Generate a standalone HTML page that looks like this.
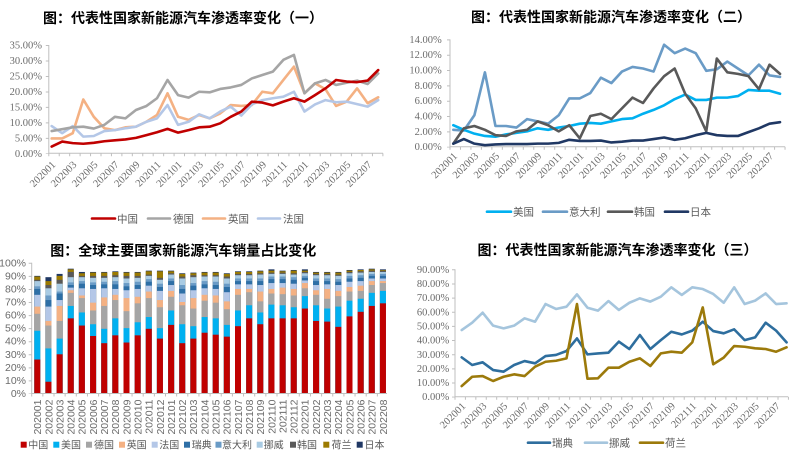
<!DOCTYPE html>
<html><head><meta charset="utf-8"><style>
html,body{margin:0;padding:0;background:#fff;}
svg{display:block}
.t{font:bold 14px "Liberation Sans","Noto Sans CJK SC",sans-serif;fill:#000;text-anchor:middle}
.y{font:10.5px "Liberation Serif",serif;fill:#6b6b6b;text-anchor:end}
.ys{font:10.5px "Liberation Sans",sans-serif;fill:#6b6b6b;text-anchor:end}
.lg{font:10.5px "Liberation Sans","Noto Sans CJK SC",sans-serif;fill:#595959}
.lb{font:10px "Liberation Sans","Noto Sans CJK SC",sans-serif;fill:#595959}
.ax{stroke:#bfbfbf;stroke-width:1;fill:none}
.tk{stroke:#bfbfbf;stroke-width:3;fill:none}
.ln{fill:none;stroke-width:2.6;stroke-linejoin:round;stroke-linecap:round;vector-effect:non-scaling-stroke}
.a{fill:#203864}.b{fill:#9C7A00}.c{fill:#595959}.d{fill:#A9CBE3}.e{fill:#6A9BC6}.f{fill:#2E6FA6}.g{fill:#B4C7E7}.h{fill:#F4B183}.i{fill:#A5A5A5}.j{fill:#00B0F0}.k{fill:#C00000}
</style></head><body>
<svg width="800" height="458" viewBox="0 0 800 458" xmlns="http://www.w3.org/2000/svg">
<rect width="800" height="458" fill="#fff"/>

<!-- ============ TOP LEFT ============ -->
<text class="t" x="183" y="23">图：代表性国家新能源汽车渗透率变化（一）</text>
<g class="y">
<text x="42" y="157">0.00%</text><text x="42" y="141.3">5.00%</text><text x="42" y="125.9">10.00%</text><text x="42" y="110.4">15.00%</text><text x="42" y="94.9">20.00%</text><text x="42" y="79.4">25.00%</text><text x="42" y="63.9">30.00%</text><text x="42" y="48.5">35.00%</text>
</g>
<path class="ax" d="M48.8 45V153.3H383"/>
<line class="tk" x1="48.3" y1="154.8" x2="384" y2="154.8" stroke-width="3" stroke-dasharray="1 9.44"/>
<line class="tk" x1="47.3" y1="45" x2="47.3" y2="154" stroke-dasharray="1 14.48"/>
<g class="y">
<text transform="translate(56.2,165.3) rotate(-45)">202001</text>
<text transform="translate(77.2,165.3) rotate(-45)">202003</text>
<text transform="translate(98.3,165.3) rotate(-45)">202005</text>
<text transform="translate(119.4,165.3) rotate(-45)">202007</text>
<text transform="translate(140.5,165.3) rotate(-45)">202009</text>
<text transform="translate(161.5,165.3) rotate(-45)">202011</text>
<text transform="translate(182.6,165.3) rotate(-45)">202101</text>
<text transform="translate(203.7,165.3) rotate(-45)">202103</text>
<text transform="translate(224.7,165.3) rotate(-45)">202105</text>
<text transform="translate(245.8,165.3) rotate(-45)">202107</text>
<text transform="translate(266.9,165.3) rotate(-45)">202109</text>
<text transform="translate(288,165.3) rotate(-45)">202111</text>
<text transform="translate(309,165.3) rotate(-45)">202201</text>
<text transform="translate(330.1,165.3) rotate(-45)">202203</text>
<text transform="translate(351.2,165.3) rotate(-45)">202205</text>
<text transform="translate(372.2,165.3) rotate(-45)">202207</text>
</g>
<g transform="translate(51.67,153.33) scale(10.533,-3.095)">
<polyline class="ln" stroke="#F4B183" points="0,4.8 1,4.8 2,6.5 3,17.4 4,11.8 5,8.1 6,7.5 7,8.4 8,8.6 9,10.2 10,12.4 11,19.4 12,11.8 13,10.8 14,12.4 15,11.3 16,12.9 17,15.6 18,15.3 19,15.6 20,19.9 21,19.4 22,23.7 23,28 24,19.4 25,22.6 26,20.7 27,15.3 28,16.7 29,21 30,16.2 31,18.1"/>
<polyline class="ln" stroke="#B4C7E7" points="0,8.8 1,6.5 2,8.8 3,5.4 4,5.6 5,7.2 6,7.5 7,8.1 8,8.6 9,10.2 10,11.3 11,15.6 12,9.2 13,10.2 14,12.6 15,11.3 16,13.5 17,15.1 18,12.2 19,15.8 20,17.2 21,17.8 22,18.3 23,19.9 24,13.5 25,15.8 26,17.2 27,16.5 28,16.7 29,15.9 30,15.1 31,17.2"/>
<polyline class="ln" stroke="#A5A5A5" points="0,7.2 1,7.8 2,8.4 3,8.6 4,8 5,9.2 6,11.8 7,11.3 8,14 9,15.3 10,17.8 11,23.7 12,18.8 13,18 14,19.9 15,19.7 16,20.8 17,21.3 18,22.1 19,24.2 20,25.3 21,26.4 22,30.2 23,31.8 24,19.4 25,22.6 26,23.7 27,22.1 28,22.8 29,23.5 30,22.4 31,25.8"/>
<polyline class="ln" stroke="#C00000" points="0,2.2 1,3.8 2,3.3 3,3.1 4,3.4 5,3.9 6,4.2 7,4.5 8,5 9,5.9 10,6.8 11,7.9 12,6.7 13,7.5 14,8.4 15,8.6 16,9.7 17,11.8 18,13.5 19,16.7 20,16.4 21,15.5 22,16.7 23,17.8 24,16.7 25,18.8 26,21 27,23.7 28,23.2 29,23 30,23.5 31,26.9"/>
</g>
<g stroke-width="2.6" stroke-linecap="round">
<line x1="92" y1="218.5" x2="115" y2="218.5" stroke="#C00000"/>
<line x1="148" y1="218.5" x2="170" y2="218.5" stroke="#A5A5A5"/>
<line x1="203" y1="218.5" x2="225" y2="218.5" stroke="#F4B183"/>
<line x1="258" y1="218.5" x2="280" y2="218.5" stroke="#B4C7E7"/>
</g>
<g class="lg"><text x="117" y="222.5">中国</text><text x="173" y="222.5">德国</text><text x="228" y="222.5">英国</text><text x="283" y="222.5">法国</text></g>

<!-- ============ TOP RIGHT ============ -->
<text class="t" x="611" y="22">图：代表性国家新能源汽车渗透率变化（二）</text>
<g class="y">
<text x="441.7" y="150.2">0.00%</text><text x="441.7" y="134.9">2.00%</text><text x="441.7" y="119.5">4.00%</text><text x="441.7" y="104.2">6.00%</text><text x="441.7" y="88.9">8.00%</text><text x="441.7" y="73.5">10.00%</text><text x="441.7" y="58.2">12.00%</text><text x="441.7" y="42.9">14.00%</text>
</g>
<path class="ax" d="M450 39.4V146.7H785"/>
<line class="tk" x1="449.5" y1="148.2" x2="786" y2="148.2" stroke-dasharray="1 9.47"/>
<line class="tk" x1="448.5" y1="39.4" x2="448.5" y2="147.5" stroke-dasharray="1 14.33"/>
<g class="y">
<text transform="translate(457.8,156.7) rotate(-45)">202001</text>
<text transform="translate(478.9,156.7) rotate(-45)">202003</text>
<text transform="translate(500,156.7) rotate(-45)">202005</text>
<text transform="translate(521,156.7) rotate(-45)">202007</text>
<text transform="translate(542.1,156.7) rotate(-45)">202009</text>
<text transform="translate(563.2,156.7) rotate(-45)">202011</text>
<text transform="translate(584.3,156.7) rotate(-45)">202101</text>
<text transform="translate(605.4,156.7) rotate(-45)">202103</text>
<text transform="translate(626.4,156.7) rotate(-45)">202105</text>
<text transform="translate(647.5,156.7) rotate(-45)">202107</text>
<text transform="translate(668.6,156.7) rotate(-45)">202109</text>
<text transform="translate(689.7,156.7) rotate(-45)">202111</text>
<text transform="translate(710.8,156.7) rotate(-45)">202201</text>
<text transform="translate(731.8,156.7) rotate(-45)">202203</text>
<text transform="translate(752.9,156.7) rotate(-45)">202205</text>
<text transform="translate(774,156.7) rotate(-45)">202207</text>
</g>
<g transform="translate(453.3,146.7) scale(10.54,-7.667)">
<polyline class="ln" stroke="#6A9BC6" points="0,2.2 1,2.1 2,4.1 3,9.7 4,2.7 5,2.7 6,2.5 7,3.6 8,3.3 9,3 10,4.1 11,6.3 12,6.3 13,7 14,9 15,8.3 16,9.8 17,10.4 18,10.2 19,9.8 20,13.3 21,12.2 22,12.8 23,12.2 24,9.9 25,10.1 26,11.1 27,10.2 28,9.3 29,10.7 30,9.3 31,9.1"/>
<polyline class="ln" stroke="#00B0F0" points="0,2.8 1,2.2 2,1.7 3,1.4 4,1.3 5,1.6 6,1.8 7,2 8,2.4 9,2.2 10,2.5 11,2.7 12,3 13,3.1 14,3 15,3.3 16,3.6 17,3.7 18,4.3 19,4.8 20,5.4 21,6.2 22,6.8 23,6.1 24,6.1 25,6.4 26,6.4 27,6.6 28,7.4 29,7.3 30,7.3 31,6.9"/>
<polyline class="ln" stroke="#595959" points="0,0.4 1,2.4 2,2.7 3,2.2 4,1.5 5,1.4 6,2 7,2.2 8,3.3 9,2.8 10,2 11,2.8 12,1.1 13,4 14,4.3 15,3.6 16,5 17,6.4 18,5.7 19,7.6 20,9.2 21,10.2 22,6.9 23,5 24,2 25,11.5 26,9.7 27,9.5 28,9.2 29,7.5 30,10.7 31,9.5"/>
<polyline class="ln" stroke="#203864" points="0,0.4 1,1 2,0.4 3,0.2 4,0.3 5,0.35 6,0.35 7,0.35 8,0.4 9,0.4 10,0.5 11,0.9 12,0.75 13,0.75 14,0.8 15,0.55 16,0.65 17,0.8 18,0.8 19,1 20,1.2 21,0.9 22,1.1 23,1.5 24,1.8 25,1.5 26,1.4 27,1.4 28,1.9 29,2.4 30,3 31,3.2"/>
</g>
<g stroke-width="2.6" stroke-linecap="round">
<line x1="487" y1="211.7" x2="511" y2="211.7" stroke="#00B0F0"/>
<line x1="543" y1="211.7" x2="567" y2="211.7" stroke="#6A9BC6"/>
<line x1="608" y1="211.7" x2="632" y2="211.7" stroke="#595959"/>
<line x1="665" y1="211.7" x2="688" y2="211.7" stroke="#203864"/>
</g>
<g class="lg"><text x="513" y="215.7">美国</text><text x="569" y="215.7">意大利</text><text x="634" y="215.7">韩国</text><text x="690" y="215.7">日本</text></g>

<!-- ============ BOTTOM LEFT ============ -->
<text class="t" x="183.3" y="255.5">图：全球主要国家新能源汽车销量占比变化</text>
<g class="ys">
<text x="26" y="397">0%</text><text x="26" y="383.9">10%</text><text x="26" y="370.9">20%</text><text x="26" y="357.8">30%</text><text x="26" y="344.7">40%</text><text x="26" y="331.7">50%</text><text x="26" y="318.6">60%</text><text x="26" y="305.5">70%</text><text x="26" y="292.5">80%</text><text x="26" y="279.4">90%</text><text x="26" y="266.3">100%</text>
</g>
<g transform="translate(0,393.5) scale(1,-1.307)">
<g transform="translate(34.3)"><rect class="a" width="6" height="90"/><rect class="b" width="6" height="89.5"/><rect class="c" width="6" height="87"/><rect class="d" width="6" height="86"/><rect class="e" width="6" height="82"/><rect class="f" width="6" height="80"/><rect class="g" width="6" height="75.5"/><rect class="h" width="6" height="66.5"/><rect class="i" width="6" height="61"/><rect class="j" width="6" height="48"/><rect class="k" width="6" height="26"/></g>
<g transform="translate(45.45)"><rect class="a" width="6" height="89"/><rect class="b" width="6" height="86"/><rect class="c" width="6" height="83"/><rect class="d" width="6" height="80.5"/><rect class="e" width="6" height="75"/><rect class="f" width="6" height="71.5"/><rect class="g" width="6" height="66.5"/><rect class="h" width="6" height="55.5"/><rect class="i" width="6" height="52"/><rect class="j" width="6" height="34.5"/><rect class="k" width="6" height="9"/></g>
<g transform="translate(56.6)"><rect class="a" width="6" height="91.5"/><rect class="b" width="6" height="90"/><rect class="c" width="6" height="87"/><rect class="d" width="6" height="84"/><rect class="e" width="6" height="78"/><rect class="f" width="6" height="76.5"/><rect class="g" width="6" height="71.5"/><rect class="h" width="6" height="67"/><rect class="i" width="6" height="55.5"/><rect class="j" width="6" height="42"/><rect class="k" width="6" height="30"/></g>
<g transform="translate(67.75)"><rect class="a" width="6" height="95.5"/><rect class="b" width="6" height="95"/><rect class="c" width="6" height="93"/><rect class="d" width="6" height="89"/><rect class="e" width="6" height="85"/><rect class="f" width="6" height="83"/><rect class="g" width="6" height="81"/><rect class="h" width="6" height="79"/><rect class="i" width="6" height="77"/><rect class="j" width="6" height="67"/><rect class="k" width="6" height="57.5"/></g>
<g transform="translate(78.9)"><rect class="a" width="6" height="93"/><rect class="b" width="6" height="92"/><rect class="c" width="6" height="90"/><rect class="d" width="6" height="89"/><rect class="e" width="6" height="86"/><rect class="f" width="6" height="84"/><rect class="g" width="6" height="80.5"/><rect class="h" width="6" height="75"/><rect class="i" width="6" height="73"/><rect class="j" width="6" height="62"/><rect class="k" width="6" height="52"/></g>
<g transform="translate(90.05)"><rect class="a" width="6" height="93"/><rect class="b" width="6" height="92.5"/><rect class="c" width="6" height="90"/><rect class="d" width="6" height="88.5"/><rect class="e" width="6" height="85"/><rect class="f" width="6" height="83"/><rect class="g" width="6" height="80"/><rect class="h" width="6" height="69.5"/><rect class="i" width="6" height="63.5"/><rect class="j" width="6" height="53"/><rect class="k" width="6" height="44"/></g>
<g transform="translate(101.2)"><rect class="a" width="6" height="93"/><rect class="b" width="6" height="92.5"/><rect class="c" width="6" height="90"/><rect class="d" width="6" height="88.5"/><rect class="e" width="6" height="85.5"/><rect class="f" width="6" height="83.5"/><rect class="g" width="6" height="80.5"/><rect class="h" width="6" height="73.5"/><rect class="i" width="6" height="67"/><rect class="j" width="6" height="49.5"/><rect class="k" width="6" height="38.5"/></g>
<g transform="translate(112.35)"><rect class="a" width="6" height="93.5"/><rect class="b" width="6" height="93"/><rect class="c" width="6" height="90.5"/><rect class="d" width="6" height="89"/><rect class="e" width="6" height="86"/><rect class="f" width="6" height="83.5"/><rect class="g" width="6" height="80"/><rect class="h" width="6" height="75.5"/><rect class="i" width="6" height="71.5"/><rect class="j" width="6" height="57.5"/><rect class="k" width="6" height="44.5"/></g>
<g transform="translate(123.5)"><rect class="a" width="6" height="93"/><rect class="b" width="6" height="92.5"/><rect class="c" width="6" height="90"/><rect class="d" width="6" height="88"/><rect class="e" width="6" height="84.5"/><rect class="f" width="6" height="82"/><rect class="g" width="6" height="79"/><rect class="h" width="6" height="73"/><rect class="i" width="6" height="63"/><rect class="j" width="6" height="50"/><rect class="k" width="6" height="39"/></g>
<g transform="translate(134.65)"><rect class="a" width="6" height="93"/><rect class="b" width="6" height="92.5"/><rect class="c" width="6" height="90"/><rect class="d" width="6" height="88.5"/><rect class="e" width="6" height="85.5"/><rect class="f" width="6" height="83"/><rect class="g" width="6" height="80"/><rect class="h" width="6" height="74"/><rect class="i" width="6" height="69"/><rect class="j" width="6" height="54.5"/><rect class="k" width="6" height="44.5"/></g>
<g transform="translate(145.8)"><rect class="a" width="6" height="94"/><rect class="b" width="6" height="93.5"/><rect class="c" width="6" height="91"/><rect class="d" width="6" height="90"/><rect class="e" width="6" height="87.5"/><rect class="f" width="6" height="85.5"/><rect class="g" width="6" height="82.5"/><rect class="h" width="6" height="78"/><rect class="i" width="6" height="73"/><rect class="j" width="6" height="58.5"/><rect class="k" width="6" height="49.5"/></g>
<g transform="translate(156.95)"><rect class="a" width="6" height="94"/><rect class="b" width="6" height="93.5"/><rect class="c" width="6" height="88.5"/><rect class="d" width="6" height="87"/><rect class="e" width="6" height="84"/><rect class="f" width="6" height="81.5"/><rect class="g" width="6" height="78.5"/><rect class="h" width="6" height="71.5"/><rect class="i" width="6" height="66"/><rect class="j" width="6" height="50"/><rect class="k" width="6" height="42"/></g>
<g transform="translate(168.1)"><rect class="a" width="6" height="94"/><rect class="b" width="6" height="93.5"/><rect class="c" width="6" height="92"/><rect class="d" width="6" height="91"/><rect class="e" width="6" height="88"/><rect class="f" width="6" height="86"/><rect class="g" width="6" height="83"/><rect class="h" width="6" height="78.5"/><rect class="i" width="6" height="74"/><rect class="j" width="6" height="63.5"/><rect class="k" width="6" height="52.5"/></g>
<g transform="translate(179.25)"><rect class="a" width="6" height="92"/><rect class="b" width="6" height="91.5"/><rect class="c" width="6" height="89.5"/><rect class="d" width="6" height="88"/><rect class="e" width="6" height="83"/><rect class="f" width="6" height="80"/><rect class="g" width="6" height="76.5"/><rect class="h" width="6" height="70"/><rect class="i" width="6" height="67.5"/><rect class="j" width="6" height="53"/><rect class="k" width="6" height="38.5"/></g>
<g transform="translate(190.4)"><rect class="a" width="6" height="92.5"/><rect class="b" width="6" height="92"/><rect class="c" width="6" height="90.5"/><rect class="d" width="6" height="89"/><rect class="e" width="6" height="84.5"/><rect class="f" width="6" height="82.5"/><rect class="g" width="6" height="79"/><rect class="h" width="6" height="73"/><rect class="i" width="6" height="65"/><rect class="j" width="6" height="51.5"/><rect class="k" width="6" height="42"/></g>
<g transform="translate(201.55)"><rect class="a" width="6" height="93"/><rect class="b" width="6" height="92.5"/><rect class="c" width="6" height="90.5"/><rect class="d" width="6" height="89.5"/><rect class="e" width="6" height="86"/><rect class="f" width="6" height="83.5"/><rect class="g" width="6" height="80.5"/><rect class="h" width="6" height="75.5"/><rect class="i" width="6" height="71"/><rect class="j" width="6" height="58.5"/><rect class="k" width="6" height="46.5"/></g>
<g transform="translate(212.7)"><rect class="a" width="6" height="93"/><rect class="b" width="6" height="92.5"/><rect class="c" width="6" height="90.5"/><rect class="d" width="6" height="89.5"/><rect class="e" width="6" height="85.5"/><rect class="f" width="6" height="83"/><rect class="g" width="6" height="80"/><rect class="h" width="6" height="75"/><rect class="i" width="6" height="69.5"/><rect class="j" width="6" height="57.5"/><rect class="k" width="6" height="45"/></g>
<g transform="translate(223.85)"><rect class="a" width="6" height="92"/><rect class="b" width="6" height="91.5"/><rect class="c" width="6" height="89.5"/><rect class="d" width="6" height="88"/><rect class="e" width="6" height="84"/><rect class="f" width="6" height="81.5"/><rect class="g" width="6" height="77.5"/><rect class="h" width="6" height="70.5"/><rect class="i" width="6" height="64.5"/><rect class="j" width="6" height="52.5"/><rect class="k" width="6" height="43.5"/></g>
<g transform="translate(235)"><rect class="a" width="6" height="93.5"/><rect class="b" width="6" height="93"/><rect class="c" width="6" height="91.5"/><rect class="d" width="6" height="90.5"/><rect class="e" width="6" height="88"/><rect class="f" width="6" height="86"/><rect class="g" width="6" height="83.5"/><rect class="h" width="6" height="80"/><rect class="i" width="6" height="75.5"/><rect class="j" width="6" height="63.5"/><rect class="k" width="6" height="51.5"/></g>
<g transform="translate(246.15)"><rect class="a" width="6" height="93.5"/><rect class="b" width="6" height="93"/><rect class="c" width="6" height="91.5"/><rect class="d" width="6" height="90.5"/><rect class="e" width="6" height="88"/><rect class="f" width="6" height="86"/><rect class="g" width="6" height="83.5"/><rect class="h" width="6" height="80"/><rect class="i" width="6" height="77.5"/><rect class="j" width="6" height="67.5"/><rect class="k" width="6" height="57.5"/></g>
<g transform="translate(257.3)"><rect class="a" width="6" height="94"/><rect class="b" width="6" height="93.5"/><rect class="c" width="6" height="92"/><rect class="d" width="6" height="91"/><rect class="e" width="6" height="88"/><rect class="f" width="6" height="86"/><rect class="g" width="6" height="83"/><rect class="h" width="6" height="78"/><rect class="i" width="6" height="70.5"/><rect class="j" width="6" height="62"/><rect class="k" width="6" height="53"/></g>
<g transform="translate(268.45)"><rect class="a" width="6" height="95"/><rect class="b" width="6" height="94"/><rect class="c" width="6" height="92.5"/><rect class="d" width="6" height="91.5"/><rect class="e" width="6" height="89.5"/><rect class="f" width="6" height="87.5"/><rect class="g" width="6" height="84.5"/><rect class="h" width="6" height="80"/><rect class="i" width="6" height="76.5"/><rect class="j" width="6" height="68"/><rect class="k" width="6" height="57.5"/></g>
<g transform="translate(279.6)"><rect class="a" width="6" height="94"/><rect class="b" width="6" height="93.5"/><rect class="c" width="6" height="92.5"/><rect class="d" width="6" height="91.5"/><rect class="e" width="6" height="89.5"/><rect class="f" width="6" height="87.5"/><rect class="g" width="6" height="84.5"/><rect class="h" width="6" height="81"/><rect class="i" width="6" height="76"/><rect class="j" width="6" height="67.5"/><rect class="k" width="6" height="57.5"/></g>
<g transform="translate(290.75)"><rect class="a" width="6" height="94.5"/><rect class="b" width="6" height="94"/><rect class="c" width="6" height="92"/><rect class="d" width="6" height="91"/><rect class="e" width="6" height="89"/><rect class="f" width="6" height="87"/><rect class="g" width="6" height="84"/><rect class="h" width="6" height="80"/><rect class="i" width="6" height="75"/><rect class="j" width="6" height="66"/><rect class="k" width="6" height="57.5"/></g>
<g transform="translate(301.9)"><rect class="a" width="6" height="95"/><rect class="b" width="6" height="94"/><rect class="c" width="6" height="93"/><rect class="d" width="6" height="92"/><rect class="e" width="6" height="90"/><rect class="f" width="6" height="88.5"/><rect class="g" width="6" height="86.5"/><rect class="h" width="6" height="84.5"/><rect class="i" width="6" height="80.5"/><rect class="j" width="6" height="74.5"/><rect class="k" width="6" height="65"/></g>
<g transform="translate(313.05)"><rect class="a" width="6" height="93"/><rect class="b" width="6" height="92.5"/><rect class="c" width="6" height="91.5"/><rect class="d" width="6" height="90.5"/><rect class="e" width="6" height="88"/><rect class="f" width="6" height="86"/><rect class="g" width="6" height="83"/><rect class="h" width="6" height="79"/><rect class="i" width="6" height="75.5"/><rect class="j" width="6" height="67.5"/><rect class="k" width="6" height="55.5"/></g>
<g transform="translate(324.2)"><rect class="a" width="6" height="93"/><rect class="b" width="6" height="92.5"/><rect class="c" width="6" height="91.5"/><rect class="d" width="6" height="90.5"/><rect class="e" width="6" height="88"/><rect class="f" width="6" height="86"/><rect class="g" width="6" height="83.5"/><rect class="h" width="6" height="80"/><rect class="i" width="6" height="72.5"/><rect class="j" width="6" height="65"/><rect class="k" width="6" height="55"/></g>
<g transform="translate(335.35)"><rect class="a" width="6" height="93"/><rect class="b" width="6" height="92.5"/><rect class="c" width="6" height="91"/><rect class="d" width="6" height="90"/><rect class="e" width="6" height="87.5"/><rect class="f" width="6" height="85.5"/><rect class="g" width="6" height="83"/><rect class="h" width="6" height="78.5"/><rect class="i" width="6" height="74.5"/><rect class="j" width="6" height="66.5"/><rect class="k" width="6" height="51"/></g>
<g transform="translate(346.5)"><rect class="a" width="6" height="94.5"/><rect class="b" width="6" height="94"/><rect class="c" width="6" height="93"/><rect class="d" width="6" height="92"/><rect class="e" width="6" height="90"/><rect class="f" width="6" height="88"/><rect class="g" width="6" height="85.5"/><rect class="h" width="6" height="81.5"/><rect class="i" width="6" height="78"/><rect class="j" width="6" height="71"/><rect class="k" width="6" height="59"/></g>
<g transform="translate(357.65)"><rect class="a" width="6" height="95"/><rect class="b" width="6" height="94.5"/><rect class="c" width="6" height="93.5"/><rect class="d" width="6" height="92.5"/><rect class="e" width="6" height="90.5"/><rect class="f" width="6" height="88.5"/><rect class="g" width="6" height="86"/><rect class="h" width="6" height="82.5"/><rect class="i" width="6" height="78.5"/><rect class="j" width="6" height="72.5"/><rect class="k" width="6" height="62.5"/></g>
<g transform="translate(368.8)"><rect class="a" width="6" height="95.5"/><rect class="b" width="6" height="95"/><rect class="c" width="6" height="94"/><rect class="d" width="6" height="93"/><rect class="e" width="6" height="91.5"/><rect class="f" width="6" height="90"/><rect class="g" width="6" height="88"/><rect class="h" width="6" height="86"/><rect class="i" width="6" height="83"/><rect class="j" width="6" height="77"/><rect class="k" width="6" height="67"/></g>
<g transform="translate(379.95)"><rect class="a" width="6" height="95"/><rect class="b" width="6" height="94.5"/><rect class="c" width="6" height="94"/><rect class="d" width="6" height="93"/><rect class="e" width="6" height="91.5"/><rect class="f" width="6" height="90"/><rect class="g" width="6" height="88"/><rect class="h" width="6" height="86"/><rect class="i" width="6" height="84.5"/><rect class="j" width="6" height="78.5"/><rect class="k" width="6" height="69"/></g>
</g>
<path class="ax" d="M31.7 262.8V393.5H387"/>
<line class="tk" x1="31.2" y1="395" x2="388" y2="395" stroke-dasharray="1 10.15"/>
<line class="tk" x1="30.2" y1="262.8" x2="30.2" y2="394" stroke-dasharray="1 12.07"/>
<g class="ys">
<text transform="translate(41.1,399.5) rotate(-90)">202001</text>
<text transform="translate(52.25,399.5) rotate(-90)">202002</text>
<text transform="translate(63.4,399.5) rotate(-90)">202003</text>
<text transform="translate(74.55,399.5) rotate(-90)">202004</text>
<text transform="translate(85.7,399.5) rotate(-90)">202005</text>
<text transform="translate(96.85,399.5) rotate(-90)">202006</text>
<text transform="translate(108,399.5) rotate(-90)">202007</text>
<text transform="translate(119.15,399.5) rotate(-90)">202008</text>
<text transform="translate(130.3,399.5) rotate(-90)">202009</text>
<text transform="translate(141.45,399.5) rotate(-90)">202010</text>
<text transform="translate(152.6,399.5) rotate(-90)">202011</text>
<text transform="translate(163.75,399.5) rotate(-90)">202012</text>
<text transform="translate(174.9,399.5) rotate(-90)">202101</text>
<text transform="translate(186.05,399.5) rotate(-90)">202102</text>
<text transform="translate(197.2,399.5) rotate(-90)">202103</text>
<text transform="translate(208.35,399.5) rotate(-90)">202104</text>
<text transform="translate(219.5,399.5) rotate(-90)">202105</text>
<text transform="translate(230.65,399.5) rotate(-90)">202106</text>
<text transform="translate(241.8,399.5) rotate(-90)">202107</text>
<text transform="translate(252.95,399.5) rotate(-90)">202108</text>
<text transform="translate(264.1,399.5) rotate(-90)">202109</text>
<text transform="translate(275.25,399.5) rotate(-90)">202110</text>
<text transform="translate(286.4,399.5) rotate(-90)">202111</text>
<text transform="translate(297.55,399.5) rotate(-90)">202112</text>
<text transform="translate(308.7,399.5) rotate(-90)">202201</text>
<text transform="translate(319.85,399.5) rotate(-90)">202202</text>
<text transform="translate(331,399.5) rotate(-90)">202203</text>
<text transform="translate(342.15,399.5) rotate(-90)">202204</text>
<text transform="translate(353.3,399.5) rotate(-90)">202205</text>
<text transform="translate(364.45,399.5) rotate(-90)">202206</text>
<text transform="translate(375.6,399.5) rotate(-90)">202207</text>
<text transform="translate(386.75,399.5) rotate(-90)">202208</text>
</g>
<rect class="k" x="20.7" y="441.7" width="6" height="6"/><rect class="j" x="53.3" y="441.7" width="6" height="6"/><rect class="i" x="86" y="441.7" width="6" height="6"/><rect class="h" x="119" y="441.7" width="6" height="6"/><rect class="g" x="151.7" y="441.7" width="6" height="6"/><rect class="f" x="184" y="441.7" width="6" height="6"/><rect class="e" x="215.5" y="441.7" width="6" height="6"/><rect class="d" x="256.7" y="441.7" width="6" height="6"/><rect class="c" x="290" y="441.7" width="6" height="6"/><rect class="b" x="323.3" y="441.7" width="6" height="6"/><rect class="a" x="356.7" y="441.7" width="6" height="6"/>
<g class="lb"><text x="28.3" y="448.5">中国</text><text x="61" y="448.5">美国</text><text x="94" y="448.5">德国</text><text x="126.7" y="448.5">英国</text><text x="159.3" y="448.5">法国</text><text x="191.7" y="448.5">瑞典</text><text x="222" y="448.5">意大利</text><text x="263.7" y="448.5">挪威</text><text x="297" y="448.5">韩国</text><text x="331.5" y="448.5">荷兰</text><text x="364.5" y="448.5">日本</text></g>

<!-- ============ BOTTOM RIGHT ============ -->
<text class="t" x="617.5" y="255">图：代表性国家新能源汽车渗透率变化（三）</text>
<g class="y">
<text x="449.3" y="400.2">0.00%</text><text x="449.3" y="386.1">10.00%</text><text x="449.3" y="371.9">20.00%</text><text x="449.3" y="357.8">30.00%</text><text x="449.3" y="343.6">40.00%</text><text x="449.3" y="329.5">50.00%</text><text x="449.3" y="315.3">60.00%</text><text x="449.3" y="301.2">70.00%</text><text x="449.3" y="287">80.00%</text><text x="449.3" y="272.9">90.00%</text>
</g>
<path class="ax" d="M455 269.3V396.7H788"/>
<line class="tk" x1="454.5" y1="398.2" x2="789" y2="398.2" stroke-dasharray="1 9.42"/>
<line class="tk" x1="453.5" y1="269.3" x2="453.5" y2="397.5" stroke-dasharray="1 13.15"/>
<g class="y">
<text transform="translate(466.2,406.7) rotate(-45)">202001</text>
<text transform="translate(487.2,406.7) rotate(-45)">202003</text>
<text transform="translate(508.1,406.7) rotate(-45)">202005</text>
<text transform="translate(529.1,406.7) rotate(-45)">202007</text>
<text transform="translate(550,406.7) rotate(-45)">202009</text>
<text transform="translate(571,406.7) rotate(-45)">202011</text>
<text transform="translate(592,406.7) rotate(-45)">202101</text>
<text transform="translate(612.9,406.7) rotate(-45)">202103</text>
<text transform="translate(633.9,406.7) rotate(-45)">202105</text>
<text transform="translate(654.8,406.7) rotate(-45)">202107</text>
<text transform="translate(675.8,406.7) rotate(-45)">202109</text>
<text transform="translate(696.8,406.7) rotate(-45)">202111</text>
<text transform="translate(717.7,406.7) rotate(-45)">202201</text>
<text transform="translate(738.7,406.7) rotate(-45)">202203</text>
<text transform="translate(759.6,406.7) rotate(-45)">202205</text>
<text transform="translate(780.6,406.7) rotate(-45)">202207</text>
</g>
<g transform="translate(461.7,396.7) scale(10.48,-1.415)">
<polyline class="ln" stroke="#A5C5DD" points="0,47.1 1,52.3 2,59.4 3,50.2 4,48.3 5,50.2 6,55.4 7,53 8,65.5 9,62 10,63.6 11,72.3 12,62.9 13,60.8 14,67.6 15,61.3 16,66.4 17,69.5 18,67.2 19,70.7 20,77.3 21,71.9 22,77.3 23,76.1 24,72.6 25,66.4 26,77.3 27,65.5 28,67.9 29,73 30,65.5 31,66"/>
<polyline class="ln" stroke="#2E6E9E" points="0,27.8 1,22.4 2,24.3 3,18.8 4,17.7 5,22.4 6,25.2 7,23.6 8,28.7 9,29.5 10,32.3 11,41.2 12,29.9 13,30.6 14,31.1 15,38.9 16,33.7 17,43.6 18,33.7 19,40 20,45.9 21,44 22,46.7 23,53 24,46.4 25,44.8 26,47.6 27,40 28,41.9 29,52.3 30,46.7 31,38.4"/>
<polyline class="ln" stroke="#9C7A0B" points="0,7.5 1,14.1 2,14.6 3,11.1 4,14.1 5,15.8 6,14.6 7,21.2 8,24.7 9,25.4 10,27.1 11,65.5 12,12.7 13,13 14,20.5 15,20.5 16,24.7 17,27.1 18,21.7 19,30.6 20,31.8 21,31.1 22,38.4 23,63.1 24,22.9 25,27.6 26,35.8 27,35.3 28,34.2 29,33.7 30,31.8 31,34.9"/>
</g>
<g stroke-width="2.6" stroke-linecap="round">
<line x1="528" y1="442.7" x2="550" y2="442.7" stroke="#2E6E9E"/>
<line x1="585" y1="442.7" x2="607" y2="442.7" stroke="#A5C5DD"/>
<line x1="640" y1="442.7" x2="663" y2="442.7" stroke="#9C7A0B"/>
</g>
<g class="lg"><text x="552" y="446.7">瑞典</text><text x="609" y="446.7">挪威</text><text x="665" y="446.7">荷兰</text></g>
</svg>
</body></html>
